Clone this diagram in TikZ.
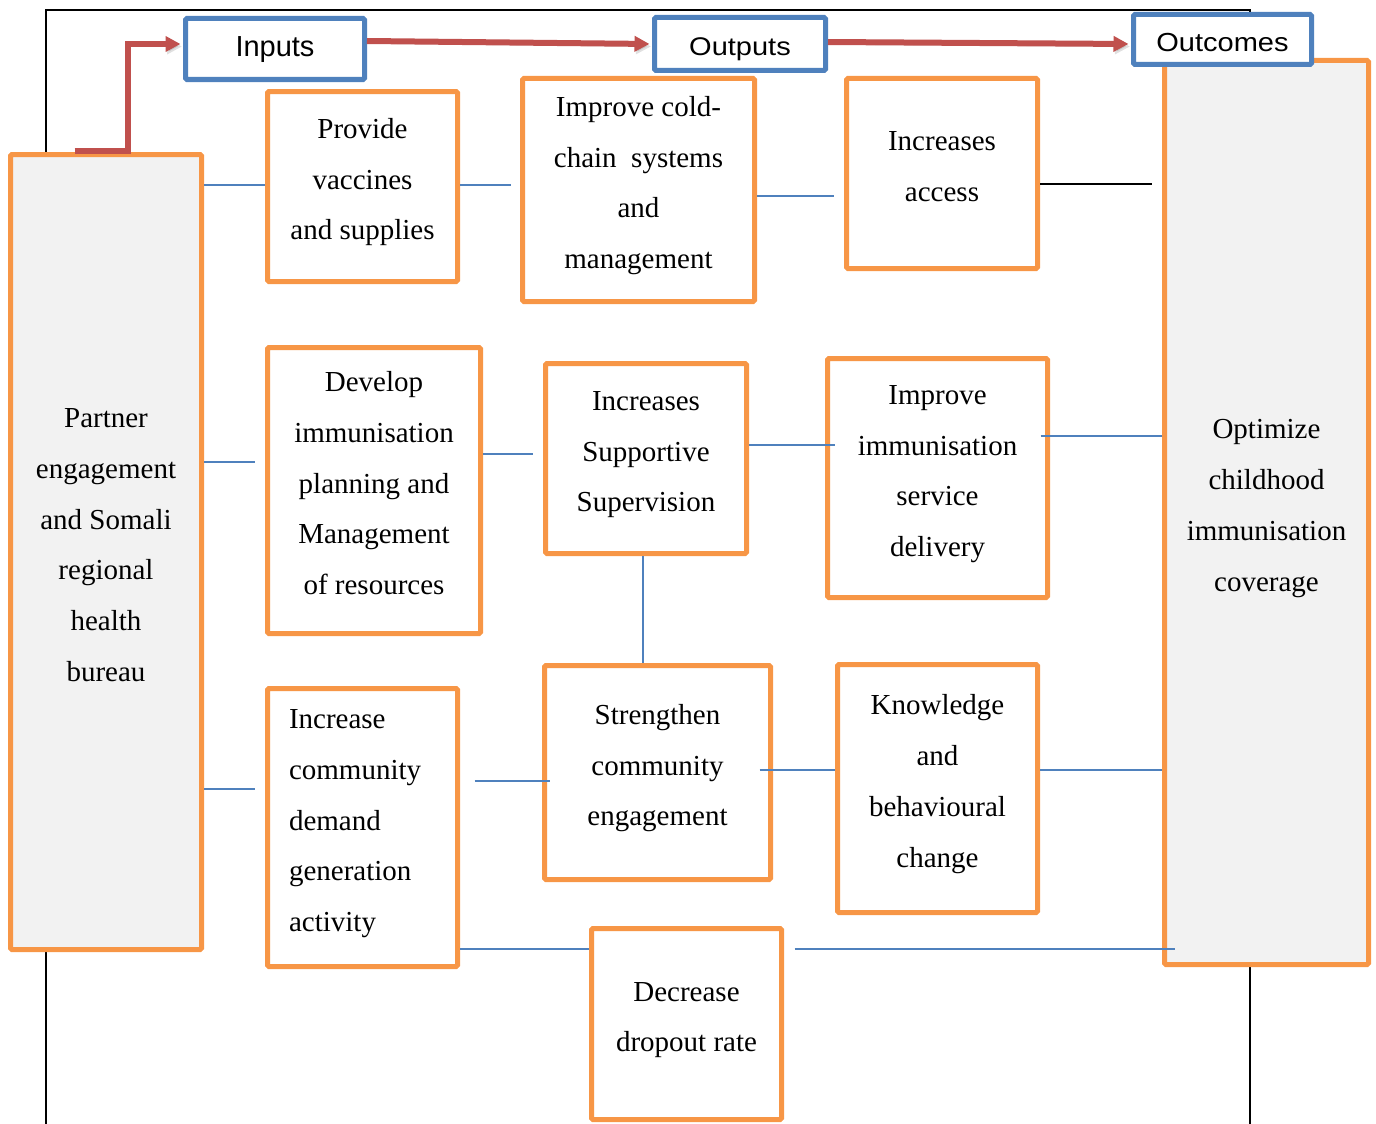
\documentclass[tikz,border=0pt]{standalone}
\usepackage{fontspec}
\usepackage{graphicx}
\setmainfont{Liberation Serif}
\newfontfamily\hdrfont{Liberation Sans}
\usetikzlibrary{arrows.meta}
\definecolor{boxorange}{HTML}{F79646}
\definecolor{boxblue}{HTML}{4F81BD}
\definecolor{arrowred}{HTML}{C0504D}
\definecolor{panelgray}{HTML}{F2F2F2}
% strut for first and last lines of the box texts
\newcommand\lnstrut{\vrule width 0pt height 20pt depth 15pt\relax}

\begin{document}
\begin{tikzpicture}[x=1pt,y=-1pt,
  obox/.style={draw=boxorange, line width=5pt, fill=white, rounded corners=1.5pt,
    inner sep=0pt, align=center, font=\fontsize{29}{50.75}\selectfont},
  panel/.style={obox, fill=panelgray},
  hbox/.style={draw=boxblue, line width=5pt, fill=white, rounded corners=1.5pt,
    inner sep=0pt, font=\hdrfont\fontsize{29}{34}\selectfont,
    text height=21pt, text depth=6pt},
  bluelink/.style={draw=boxblue, line width=2pt},
  blacklink/.style={draw=black, line width=2pt},
  flow/.style={draw=arrowred, line width=6pt, -{Triangle[length=15pt,width=15pt]},
    preaction={draw=black, opacity=0.12, transform canvas={shift={(1.5pt,-2.5pt)}}}},
  outerframe/.style={draw=black, line width=2pt}]

\useasboundingbox (0,0) rectangle (1376,1124);

% outer frame
\draw[outerframe] (46,1124) -- (46,10) -- (1250,10) -- (1250,1124);

% side panels
\node[panel, minimum width=191pt, minimum height=795pt] (partner) at (106,552)
  {\lnstrut Partner\\engagement\\and Somali\\regional\\health\\bureau\lnstrut};
\node[panel, minimum width=204pt, minimum height=904pt] (opt) at (1266.5,512.5)
  {\lnstrut Optimize\\childhood\\immunisation\\coverage\lnstrut};

% headers
\node[hbox, minimum width=179pt, minimum height=61pt] (inp) at (275,49) {Inputs};
\node[hbox, minimum width=171pt, minimum height=53pt] (out) at (740,44)
  {\raisebox{-4.5pt}[21pt][6pt]{\scalebox{1}[0.88]{Outputs}}};
\node[hbox, minimum width=178pt, minimum height=50pt] (outc) at (1222.5,39.5)
  {\raisebox{-5pt}[21pt][6pt]{\scalebox{1}[0.9]{Outcomes}}};

% row 1
\node[obox, minimum width=190pt, minimum height=190pt] (prov) at (362.5,186.5)
  {\lnstrut Provide\\vaccines\\and supplies\lnstrut};
\node[obox, minimum width=232pt, minimum height=223pt] (cold) at (638.5,190)
  {\lnstrut Improve cold-\\chain\ \ systems\\and\\management\lnstrut};
\node[obox, minimum width=191pt, minimum height=190pt] (acc) at (942,173.5)
  {\lnstrut Increases\\access\lnstrut};

% row 2
\node[obox, minimum width=213pt, minimum height=286pt] (dev) at (374,490.5)
  {\lnstrut Develop\\immunisation\\planning and\\Management\\of resources\lnstrut};
\node[obox, minimum width=201pt, minimum height=190pt] (sup) at (646,458.5)
  {\lnstrut Increases\\Supportive\\Supervision\lnstrut};
\node[obox, minimum width=220pt, minimum height=239pt] (imp) at (937.5,478)
  {\lnstrut Improve\\immunisation\\service\\delivery\lnstrut};

% row 3
\node[obox, minimum width=190pt, minimum height=278pt, text width=147pt, align=left] (inc) at (362.5,827.5)
  {\lnstrut Increase\\community\\demand\\generation\\activity\lnstrut};
\node[obox, minimum width=226pt, minimum height=214pt] (str) at (657.5,772.5)
  {\lnstrut Strengthen\\community\\engagement\lnstrut};
\node[obox, minimum width=200pt, minimum height=248pt] (know) at (937.5,788.5)
  {\lnstrut Knowledge\\and\\behavioural\\change\lnstrut};
\node[obox, minimum width=190pt, minimum height=191pt] (dec) at (686.5,1024)
  {\lnstrut Decrease\\dropout rate\lnstrut};

% red flow arrows along the top
\coordinate (r0) at ([xshift=66.5pt,yshift=1.5pt]partner.north west);
\coordinate (r1) at ([yshift=5pt]inp.west);
\draw[flow, shorten >=2.5pt] (r0) -- ++(53,0) |- (r1);
\coordinate (r2) at ([yshift=8pt]inp.east);
\draw[flow, shorten >=2.5pt] (r2) -- (out.west);
\coordinate (r3) at ([yshift=2pt]out.east);
\coordinate (r4) at ([yshift=-4.5pt]outc.west);
\draw[flow, shorten >=2.5pt] (r3) -- (r4);

% connectors
\coordinate (p1) at ([yshift=1.5pt]prov.west);
\draw[bluelink] (partner.east |- p1) -- (p1);
\coordinate (p2) at ([yshift=1.5pt]prov.east);
\draw[bluelink, shorten >=9.5pt] (p2) -- (p2 -| cold.west);
\coordinate (p3) at ([yshift=-6pt]cold.east);
\draw[bluelink, shorten >=10.5pt] (p3) -- (p3 -| acc.west);
\coordinate (p4) at ([yshift=-10.5pt]acc.east);
\draw[blacklink, shorten >=10.5pt] (p4) -- (p4 -| opt.west);

\coordinate (p5) at ([yshift=28.5pt]dev.west);
\draw[bluelink, shorten >=10.5pt] (partner.east |- p5) -- (p5);
\coordinate (p6) at ([yshift=4.5pt]sup.west);
\draw[bluelink, shorten >=10.5pt] (dev.east |- p6) -- (p6);
\coordinate (p7) at ([yshift=13.5pt]sup.east);
\draw[bluelink, shorten >=-10pt] (p7) -- (p7 -| imp.west);
\coordinate (p8) at ([yshift=42pt]imp.east);
\draw[bluelink, shorten <=-9.5pt] (p8) -- (p8 -| opt.west);
\coordinate (p9) at ([xshift=-3pt]sup.south);
\draw[bluelink] (p9) -- (p9 |- str.north);

\coordinate (p10) at ([yshift=38.5pt]inc.west);
\draw[bluelink, shorten >=10.5pt] (partner.east |- p10) -- (p10);
\coordinate (p11) at ([yshift=46.5pt]inc.east);
\draw[bluelink, shorten <=14.5pt, shorten >=-7.5pt] (p11) -- (p11 -| str.west);
\coordinate (p12) at ([yshift=2.5pt]str.east);
\draw[bluelink, shorten <=-13.5pt] (p12) -- (p12 -| know.west);
\coordinate (p13) at ([yshift=18.5pt]know.east);
\draw[bluelink] (p13) -- (p13 -| opt.west);
\coordinate (p14) at ([yshift=75pt]dec.west);
\draw[bluelink] (inc.east |- p14) -- (p14);
\coordinate (p15) at ([yshift=75pt]dec.east);
\draw[bluelink, shorten <=10.5pt, shorten >=-12.5pt] (p15) -- (p15 -| opt.west);

\end{tikzpicture}
\end{document}
